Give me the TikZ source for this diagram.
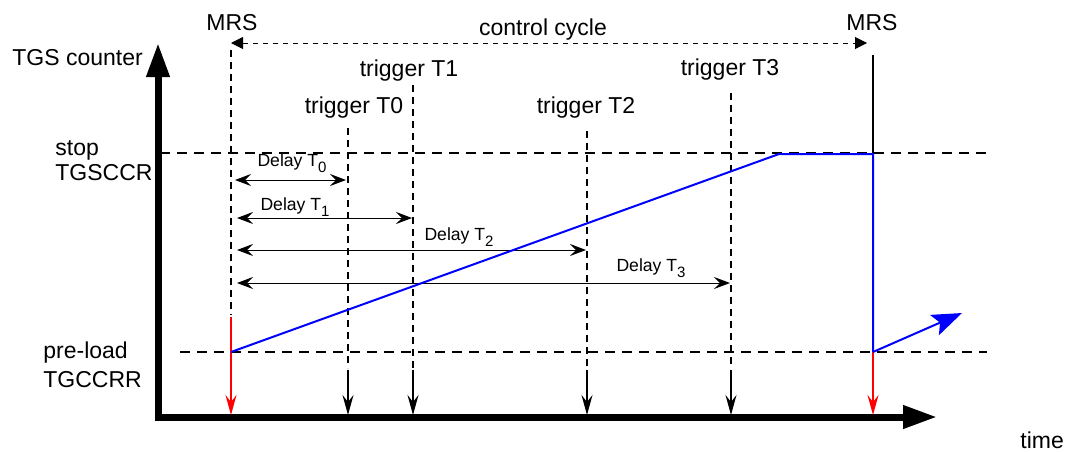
\documentclass[tikz,border=0pt]{standalone}
\usepackage{fontspec}
\setmainfont{Liberation Sans}
\usetikzlibrary{arrows.meta}
\tikzset{
  axis/.style={line width=3.5pt,-{Triangle[length=17pt,width=11pt]}},
  lvl/.style={line width=1pt,dash pattern=on 5pt off 3.5pt},
  guide/.style={line width=0.6pt,dash pattern=on 3.5pt off 2.5pt},
  cyc/.style={line width=0.5pt,dash pattern=on 2.5pt off 2.5pt,{Triangle[length=6pt,width=6pt]}-{Triangle[length=6pt,width=6pt]}},
  dly/.style={line width=0.5pt,{Stealth[length=8pt,width=6pt,inset=3pt]}-{Stealth[length=8pt,width=6pt,inset=3pt]}},
  trig/.style={line width=0.8pt,-{Stealth[length=10pt,width=5.5pt,inset=3.5pt]}},
  rst/.style={trig,red},
  ramp/.style={blue,line width=1pt},
  lbl/.style={font=\fontsize{11.5}{13}\selectfont,inner sep=0pt},
  dlbl/.style={font=\fontsize{8.8}{10}\selectfont,inner sep=0pt}
}
\newcommand{\dsub}[1]{\raisebox{-0.6ex}{\fontsize{7.5}{8}\selectfont #1}}
\begin{document}
\begin{tikzpicture}[x=0.5pt,y=-0.5pt]
\useasboundingbox (0,0) rectangle (1071,451);
% axes
\coordinate (o) at (158,417);
\coordinate (ytop) at (158,43);
\coordinate (xend) at (937,417);
\coordinate (ybot) at (158,420);
\coordinate (xbeg) at (155,417);
\draw[axis] (ybot) -- (ytop);
\draw[axis] (xbeg) -- (xend);
\node[lbl,anchor=west] (cnt) at (12,58) {TGS counter};
\node[lbl,anchor=west] (time) at (1020,440) {time};
% levels
\coordinate (stopA) at (160,153); \coordinate (stopB) at (987,153);
\coordinate (preA) at (180,352); \coordinate (preB) at (987,352);
\draw[lvl] (stopA) -- (stopB);
\draw[lvl] (preA) -- (preB);
\node[lbl,anchor=west] (stop) at (55,150) {stop};
\node[lbl,anchor=west] (tgsccr) at (55,173) {TGSCCR};
\node[lbl,anchor=west] (pre) at (43,353) {pre-load};
\node[lbl,anchor=west] (tgccrr) at (43,380) {TGCCRR};
% control cycle
\node[lbl] (mrsA) at (232,23) {MRS};
\node[lbl] (mrsB) at (872,23) {MRS};
\node[lbl] (cycle) at (543,30) {control cycle};
\coordinate (cycA) at (231,43); \coordinate (cycB) at (867,43);
\draw[cyc] (cycA) -- (cycB);
\coordinate (mA) at (231,50); \coordinate (mB) at (231,315);
\draw[guide] (mA) -- (mB);
\coordinate (rA) at (231,317); \coordinate (rB) at (231,415);
\draw[rst] (rA) -- (rB);
\coordinate (nA) at (873,55); \coordinate (nB) at (873,153);
\draw[line width=0.8pt] (nA) -- (nB);
\coordinate (sA) at (873,352); \coordinate (sB) at (873,415);
\draw[rst] (sA) -- (sB);
% triggers
\foreach \t/\x/\ty/\ly/\lx in {0/348/128/108/354,1/413/85/71/409,2/587/131/108/586,3/731/93/70/730}{
  \node[lbl] (trg\t) at (\lx,\ly) {trigger T\t};
  \coordinate (gA\t) at (\x,\ty); \coordinate (gB\t) at (\x,368);
  \coordinate (tA\t) at (\x,370); \coordinate (tB\t) at (\x,415);
  \draw[guide] (gA\t) -- (gB\t);
  \draw[trig] (tA\t) -- (tB\t);
}
% delays
\foreach \t/\x/\y/\lx/\ly/\s in {0/346/180/292/163/235,1/412/218/295/207/237,2/586/250/459/237/237,3/730/283/651/268/237}{
  \coordinate (dA\t) at (\s,\y); \coordinate (dB\t) at (\x,\y);
  \draw[dly] (dA\t) -- (dB\t);
  \node[dlbl] (dl\t) at (\lx,\ly) {Delay T\dsub{\t}};
}
% counter value
\coordinate (c0) at (231,352); \coordinate (c1) at (779,154);
\coordinate (c2) at (873,154); \coordinate (c3) at (873,352);
\coordinate (c4) at (962,313);
\draw[ramp] (c0) -- (c1) -- (c2) -- (c3);
\draw[ramp,-{Stealth[length=15pt,width=11pt,inset=3pt]}] (c3) -- (c4);
\end{tikzpicture}
\end{document}
